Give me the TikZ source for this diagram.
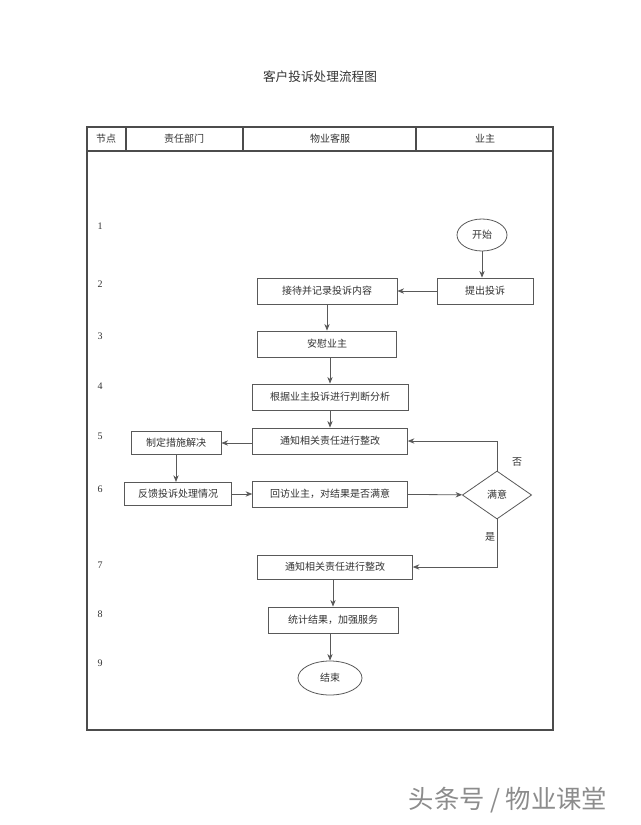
\documentclass[tikz,border=0pt]{standalone}
\usepackage{fontspec}
\setmainfont{Liberation Serif}
\newfontfamily\cjk{Noto Sans CJK SC}
\usetikzlibrary{shapes.geometric,arrows.meta}
\begin{document}
\begin{tikzpicture}[x=0.75pt,y=-0.75pt,
  every node/.style={font=\cjk\fontsize{7.5}{9}\selectfont, text=black!80},
  box/.style={draw=black!65, line width=0.6pt, minimum height=19.5pt, inner sep=0pt},
  ell/.style={draw=black!65, ellipse, line width=0.6pt, inner sep=0pt},
  arr/.style={draw=black!65, line width=0.6pt, -{Stealth[length=5pt,width=4pt]}},
  num/.style={font=\fontsize{7.5}{9}\selectfont}]
\useasboundingbox (0,0) rectangle (640,825);
\fill[white] (0,0) rectangle (640,825);
\node at (320,77) {\fontsize{9.5}{11}\selectfont 客户投诉处理流程图};
\draw[black!70, line width=0.8pt] (87,127) rectangle (553,730);
\draw[black!70, line width=0.8pt] (87,151) -- (553,151);
\foreach \x in {126,243,416} \draw[black!70, line width=0.8pt] (\x,127) -- (\x,151);
\node at (106,139) {节点};
\node at (184,139) {责任部门};
\node at (330,139) {物业客服};
\node at (485,139) {业主};
\foreach \n/\y in {1/226,2/284,3/336,4/386,5/436,6/489,7/565,8/614,9/663}
  \node[num] at (100,\y) {\n};
\node[ell, minimum width=37.5pt, minimum height=24pt] (start) at (482,235) {开始};
\node[box, minimum width=72pt] (tc) at (485,291) {提出投诉};
\node[box, minimum width=105pt] (jd) at (327,291) {接待并记录投诉内容};
\node[box, minimum width=104pt] (aw) at (327,344) {安慰业主};
\node[box, minimum width=117pt] (gj) at (330,397) {根据业主投诉进行判断分析};
\node[box, minimum width=116pt] (tz) at (330,441) {通知相关责任进行整改};
\node[box, minimum width=67.5pt, minimum height=17.5pt] (zd) at (176,443) {制定措施解决};
\node[box, minimum width=80pt, minimum height=17.5pt] (fk) at (178,494) {反馈投诉处理情况};
\node[box, minimum width=116pt] (hf) at (330,494) {回访业主，对结果是否满意};
\node[draw=black!65, line width=0.6pt, diamond, aspect=1.45, minimum width=52pt, minimum height=36pt, inner sep=0pt] (my) at (497,495) {满意};
\node[box, minimum width=116pt, minimum height=18pt] (tz2) at (335,567) {通知相关责任进行整改};
\node[box, minimum width=97.5pt] (tj) at (333,620) {统计结果，加强服务};
\node[ell, minimum width=48pt, minimum height=25.5pt] (end) at (330,678) {结束};
\node at (517,462) {否};
\node at (490,537) {是};
\draw[arr] (start) -- (start |- tc.north);
\draw[arr] (tc) -- (jd);
\draw[arr] (jd) -- (jd |- aw.north);
\draw[arr] (gj |- aw.south) -- (gj.north);
\draw[arr] (gj) -- (tz);
\draw[arr] (tz.west |- zd) -- (zd);
\draw[arr] (zd) -- (zd |- fk.north);
\draw[arr] (fk) -- (hf);
\draw[arr] (hf) -- (my);
\draw[arr] (my.north) |- (tz.east);
\draw[arr] (my.south) |- (tz2.east);
\draw[arr] (tj |- tz2.south) -- (tj.north);
\draw[arr] (end |- tj.south) -- (end.north);
\node[text=black!45] at (508,800) {\fontsize{19}{22}\selectfont 头条号 / 物业课堂};
\end{tikzpicture}
\end{document}
